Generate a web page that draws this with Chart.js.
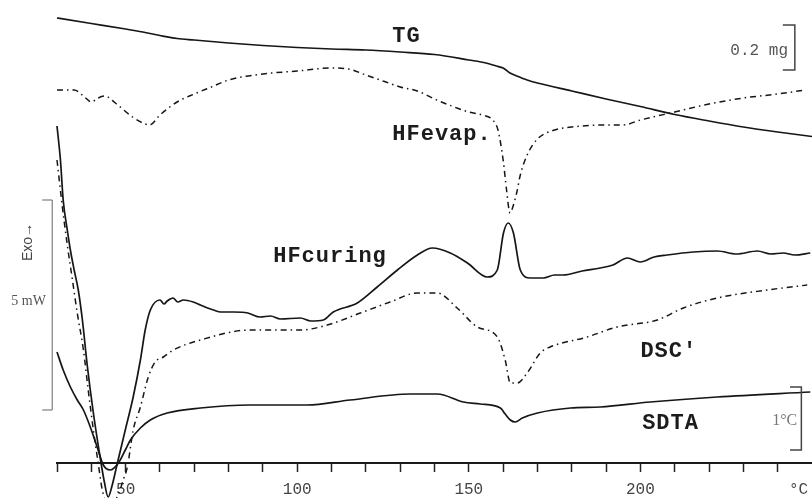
<!DOCTYPE html>
<html>
<head>
<meta charset="utf-8">
<script src="https://cdn.jsdelivr.net/npm/chart.js@4/dist/chart.umd.min.js"></script>
<style>
  html, body { margin: 0; padding: 0; background: #fff; overflow: hidden; }
  canvas { display: block; }
</style>
</head>
<body>
<canvas id="thermo" width="812" height="498"></canvas>
<script>
// temperature axis (°C) and signals in arbitrary units (curves offset vertically)
const tickLabels = [50, 100, 150, 200];

const tgTemp = [30, 40, 50, 55, 60, 65, 70, 80, 90, 100, 110, 120, 130, 140, 150, 155, 158, 160, 162, 164, 167, 170, 180, 190, 200, 210, 220, 230, 240, 250];
const tgSignal = [44.5, 43.95, 43.4, 43.1, 42.75, 42.45, 42.3, 42.0, 41.75, 41.55, 41.4, 41.3, 41.1, 40.85, 40.3, 40.0, 39.7, 39.5, 39.0, 38.7, 38.3, 38.0, 37.2, 36.4, 35.65, 34.85, 34.2, 33.6, 33.1, 32.65];

const evapTemp = [30, 35, 38, 40, 42, 44, 47, 52, 55, 57, 60, 65, 70, 75, 80, 90, 100, 110, 115, 120, 125, 130, 135, 140, 145, 150, 155, 157, 158.5, 160, 161, 162, 163, 164, 165, 167, 170, 175, 180, 190, 195, 200, 210, 220, 230, 240, 248];
const evapSignal = [37.3, 37.3, 36.6, 36.1, 36.5, 36.7, 36.0, 34.6, 34.0, 33.8, 34.8, 36.1, 36.9, 37.6, 38.3, 38.9, 39.2, 39.5, 39.4, 38.8, 38.2, 37.6, 37.2, 36.4, 35.7, 35.1, 34.7, 34.3, 33.3, 30.3, 27.3, 25.0, 25.8, 27.1, 28.8, 30.8, 32.4, 33.3, 33.6, 33.8, 33.8, 34.3, 35.1, 35.9, 36.5, 36.9, 37.3];

const curingTemp = [30, 31.0, 31.8, 33.0, 33.9, 35.0, 36.2, 37.4, 38.8, 40.6, 42.6, 43.8, 44.9, 46.1, 47.6, 49.9, 52.2, 54.3, 55.7, 57.2, 60.0, 61.2, 62.1, 63.8, 65.2, 66.8, 69.7, 71.8, 73.9, 75.6, 77.7, 81.5, 85.6, 89.2, 92.2, 95.1, 100.9, 104.0, 107.6, 110.5, 117.5, 123.3, 129.2, 135.0, 139.4, 144.6, 149.6, 155.4, 158.3, 160.1, 161.5, 163.0, 165.0, 167.9, 171.7, 175.0, 177.5, 183.0, 188.3, 192.0, 196.2, 200.0, 204.0, 207.8, 215.4, 222.4, 228.0, 234.1, 238.0, 241.6, 245.0, 249.5];
const curingSignal = [33.7, 30.3, 26.3, 23.3, 21.3, 19.3, 17.3, 14.3, 9.8, 5.0, 0.5, -1.9, -3.4, -2.2, 0.0, 3.3, 6.6, 10.3, 13.3, 15.3, 16.3, 15.9, 16.2, 16.5, 16.1, 16.3, 16.1, 15.8, 15.5, 15.3, 15.1, 15.1, 15.0, 14.6, 14.7, 14.4, 14.5, 14.2, 14.3, 15.1, 16.0, 17.6, 19.3, 20.8, 21.5, 21.0, 20.0, 18.6, 19.3, 23.0, 24.0, 23.0, 19.3, 18.5, 18.5, 18.8, 18.8, 19.2, 19.5, 19.8, 20.5, 20.1, 20.6, 20.8, 21.1, 21.2, 20.9, 21.2, 20.9, 21.0, 20.8, 21.0];

const dscTemp = [30, 31.5, 33.0, 34.5, 35.9, 37.7, 39.1, 40.6, 42.0, 43.2, 44.9, 46.4, 47.9, 49.3, 50.5, 52.2, 54.3, 56.6, 58.6, 61.0, 63.9, 71.8, 86.3, 100.9, 108.8, 118.4, 127.1, 135.0, 140.8, 146.6, 152.5, 158.3, 160.6, 162.1, 164.1, 167.0, 170.8, 173.7, 184.5, 193.2, 204.9, 212.5, 222.4, 236.9, 248.6];
const dscSignal = [30.3, 25.8, 21.8, 18.3, 15.0, 11.3, 7.3, 3.3, 0.0, -2.7, -4.2, -4.0, -3.1, -1.7, -0.4, 3.3, 5.6, 8.6, 10.1, 10.6, 11.3, 12.3, 13.3, 13.3, 13.8, 15.0, 16.1, 17.0, 17.0, 15.5, 13.6, 12.6, 10.3, 8.0, 8.0, 9.0, 11.0, 11.6, 12.6, 13.6, 14.3, 15.5, 16.5, 17.3, 17.8];

const sdtaTemp = [30, 31.8, 33.9, 35.9, 37.7, 39.7, 41.7, 43.5, 45.5, 47.9, 49.9, 51.4, 54.3, 57.2, 62.1, 71.8, 86.3, 102.9, 115.4, 132.9, 140.8, 148.4, 153.3, 159.2, 160.6, 162.1, 163.5, 165.6, 170.0, 179.6, 188.3, 202.9, 222.4, 249.5];
const sdtaSignal = [11.1, 9.3, 7.6, 6.3, 5.3, 3.6, 1.6, -0.2, -0.7, 0.0, 1.3, 2.3, 3.5, 4.3, 5.0, 5.5, 5.8, 5.8, 6.3, 6.9, 6.9, 6.1, 5.9, 5.5, 4.9, 4.3, 4.1, 4.5, 5.0, 5.5, 5.6, 6.1, 6.6, 7.1];

// curve names and where they are written (°C, signal)
const curveLabels = [
    { text: "TG", t: 127.7, v: 42.7 },
    { text: "HFevap.", t: 127.7, v: 32.9 },
    { text: "HFcuring", t: 93.0, v: 20.7 },
    { text: "DSC'", t: 200.0, v: 11.2 },
    { text: "SDTA", t: 200.5, v: 4.0 },
];

function toPoints(temps, vals) {
    return temps.map((t, i) => ({ x: t, y: vals[i] }));
}

const ink = "#161616";

function serie(label, temps, vals, dash) {
    return {
        label: label,
        data: toPoints(temps, vals),
        borderColor: ink,
        borderWidth: dash ? 1.5 : 1.7,
        borderDash: dash || [],
        pointRadius: 0,
        fill: false,
        cubicInterpolationMode: "monotone",
        clip: false,
    };
}

// labels, scale bars and the unit, drawn over the chart
const annotations = {
    id: "annotations",
    afterDraw(chart) {
        const c = chart.ctx;
        const x = chart.scales.x;
        const y = chart.scales.y;
        const px = (t) => x.getPixelForValue(t);
        const py = (v) => y.getPixelForValue(v);

        c.save();
        c.fillStyle = "#1c1c1c";
        c.font = "bold 22px 'Liberation Mono', 'Courier New', monospace";
        c.letterSpacing = "1px";
        c.textAlign = "left";
        c.textBaseline = "middle";
        curveLabels.forEach((l) => c.fillText(l.text, px(l.t), py(l.v)));
        c.letterSpacing = "0px";

        // scale brackets
        c.strokeStyle = "#444";
        c.lineWidth = 1.5;
        function bracket(tOut, tIn, vTop, vBot) {
            c.beginPath();
            c.moveTo(px(tOut), py(vTop));
            c.lineTo(px(tIn), py(vTop));
            c.lineTo(px(tIn), py(vBot));
            c.lineTo(px(tOut), py(vBot));
            c.stroke();
        }
        bracket(241.5, 245.0, 43.8, 39.3); // 0.2 mg
        bracket(243.6, 246.9, 7.6, 1.3);   // 1 °C
        c.strokeStyle = "#666";
        c.lineWidth = 1;
        bracket(25.7, 28.6, 26.3, 5.3);    // 5 mW

        c.fillStyle = "#555";
        c.font = "16px 'Liberation Mono', 'Courier New', monospace";
        c.textAlign = "right";
        c.fillText("0.2 mg", px(243.0), py(41.2));

        c.fillStyle = "#777";
        c.font = "16px 'Liberation Serif', serif";
        c.fillText("1°C", px(245.7), py(4.2));

        c.fillStyle = "#555";
        c.font = "14px 'Liberation Serif', serif";
        c.textAlign = "left";
        c.fillText("5 mW", px(16.7), py(16.2));

        c.save();
        c.translate(px(21.6), py(22.1));
        c.rotate(-Math.PI / 2);
        c.textAlign = "center";
        c.font = "14px 'Liberation Sans', sans-serif";
        c.fillStyle = "#444";
        c.fillText("Exo→", 0, 0);
        c.restore();

        // axis unit
        c.fillStyle = "#444";
        c.font = "16px 'Liberation Mono', 'Courier New', monospace";
        c.textAlign = "left";
        c.fillText("°C", px(243.3), x.bottom - 8);
        c.restore();
    },
};

new Chart(document.getElementById("thermo"), {
    type: "line",
    data: {
        datasets: [
            serie("TG", tgTemp, tgSignal),
            serie("HFevap.", evapTemp, evapSignal, [6, 4, 1.5, 4]),
            serie("HFcuring", curingTemp, curingSignal),
            serie("DSC'", dscTemp, dscSignal, [6, 4, 1.5, 4]),
            serie("SDTA", sdtaTemp, sdtaSignal),
        ],
    },
    options: {
        responsive: false,
        animation: false,
        devicePixelRatio: 1,
        layout: { padding: { left: 57, right: 0, top: 0, bottom: 0 } },
        plugins: {
            legend: { display: false },
            tooltip: { enabled: false },
        },
        scales: {
            x: {
                type: "linear",
                min: 30,
                max: 250,
                afterFit: (s) => {
                    s.height = 35;
                    s.paddingLeft = 0;
                    s.paddingRight = 0;
                },
                border: { display: true, color: "#1a1a1a", width: 2 },
                grid: {
                    drawOnChartArea: false,
                    drawTicks: true,
                    tickLength: 9,
                    tickWidth: 1.5,
                    tickColor: (ctx) => (ctx.tick && ctx.tick.value === 250 ? "rgba(0,0,0,0)" : "#222"),
                },
                ticks: {
                    stepSize: 10,
                    autoSkip: false,
                    maxRotation: 0,
                    padding: 8,
                    color: "#444",
                    font: { family: "'Liberation Mono', 'Courier New', monospace", size: 16 },
                    callback: (v) => (tickLabels.includes(v) ? String(v) : ""),
                },
            },
            y: {
                display: false,
                min: 0,
                max: 46.3,
            },
        },
    },
    plugins: [annotations],
});
</script>
</body>
</html>
